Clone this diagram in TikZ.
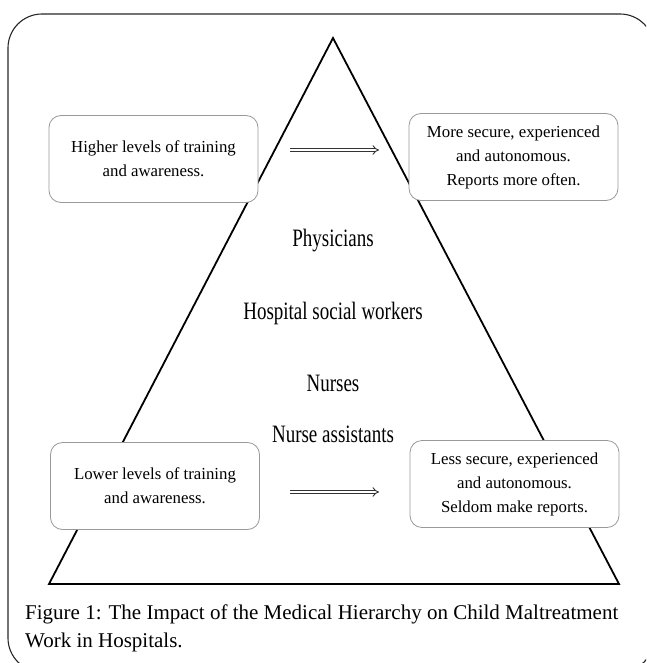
\documentclass[tikz,border=0pt]{standalone}
\usepackage{fontspec}
\setmainfont{Liberation Serif}
\newfontfamily\narrowserif[FakeStretch=0.76]{Liberation Serif}
\usetikzlibrary{positioning, arrows, arrows.meta}

\begin{document}
\begin{tikzpicture}[x=1pt,y=-1pt,
  infobox/.style={draw=black!40, line width=0.8pt, rounded corners=12pt, minimum width=209pt, minimum height=87pt, align=center, font=\fontsize{16.8}{24}\selectfont},
  rank/.style={font=\narrowserif\fontsize{25}{28}\selectfont},
  flow/.style={double, double distance=2.4pt, line width=0.9pt, draw=black!80, -{Implies}}]
\useasboundingbox (0,0) rectangle (646,663);
\begin{scope}
\clip (0,0) rectangle (646,663);
\draw[line width=1.1pt, black!85, rounded corners=34pt] (8,14) rectangle (654,672);
\end{scope}
% pyramid
\draw[line width=1.8pt, line join=miter] (333,38) -- (49,584) -- (619,584) -- cycle;
% the four boxes
\node[infobox, fill=white] (hi) at (153.5,159) {Higher levels of training\\and awareness.};
\node[infobox, fill=white] (ho) at (513.5,157) {More secure, experienced\\and autonomous.\\Reports more often.};
\node[infobox, fill=white] (lo) at (155,486) {Lower levels of training\\and awareness.};
\node[infobox, fill=white] (lw) at (514.5,484) {Less secure, experienced\\and autonomous.\\Seldom make reports.};
% staff levels
\node[rank] (phys) at (333,241) {Physicians};
\node[rank] (hsw) at (333,313) {Hospital social workers};
\node[rank] (nurse) at (333,383) {Nurses};
\node[rank] (assist) at (333,434) {Nurse assistants};
% arrows
\coordinate (t1) at (290,150);
\coordinate (t2) at (379,150);
\coordinate (b1) at (290,492);
\coordinate (b2) at (379,492);
\draw[flow] (t1) -- (t2);
\draw[flow] (b1) -- (b2);
% caption
\node[anchor=north west, align=left, font=\fontsize{21}{28}\selectfont, inner sep=0pt] (cap) at (25,605)
  {Figure 1: The Impact of the Medical Hierarchy on Child Maltreatment\\Work in Hospitals.};
\end{tikzpicture}
\end{document}
